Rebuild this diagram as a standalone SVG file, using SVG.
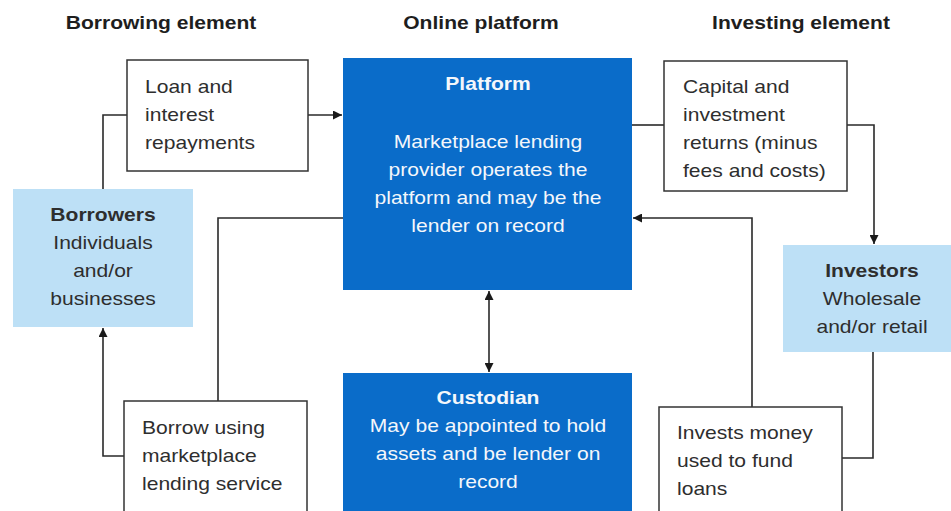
<svg xmlns="http://www.w3.org/2000/svg" width="951" height="511" viewBox="0 0 951 511">
  <defs>
    <marker id="arrow" viewBox="0 0 10 10" refX="10" refY="5" markerWidth="9" markerHeight="9" markerUnits="userSpaceOnUse" orient="auto-start-reverse">
      <path d="M0,0 L10,5 L0,10 z" fill="#1a1a1a"/>
    </marker>
  </defs>
  <style>
    text { font-family: "Liberation Sans", Arial, sans-serif; font-size: 18px; fill: #2e2e2e; }
    .head { font-weight: bold; fill: #1e1e1e; }
    .bold { font-weight: bold; }
    .white { fill: #f4f7fb; }
    .mid { text-anchor: middle; }
    .box { fill: #ffffff; stroke: #333333; stroke-width: 1.5; }
    .light { fill: #bde0f6; }
    .dark { fill: #0a6cc9; }
    .conn { fill: none; stroke: #2a2a2a; stroke-width: 1.6; }
  </style>
  <rect width="951" height="511" fill="#ffffff"/>

  <!-- column headings (text is set slightly wide: scale(1.17,1)) -->
  <g id="headings">
    <text class="head mid" transform="translate(161,29) scale(1.17,1)">Borrowing element</text>
    <text class="head mid" transform="translate(481,29) scale(1.17,1)">Online platform</text>
    <text class="head mid" transform="translate(801,29) scale(1.17,1)">Investing element</text>
  </g>

  <!-- connectors -->
  <g id="connectors">
    <path class="conn" d="M103,189 V115 H127"/>
    <path class="conn" d="M308,115 H342" marker-end="url(#arrow)"/>
    <path class="conn" d="M343,218 H218 V401"/>
    <path class="conn" d="M124,456 H103 V328" marker-end="url(#arrow)"/>
    <path class="conn" d="M489,291 V372" marker-start="url(#arrow)" marker-end="url(#arrow)"/>
    <path class="conn" d="M632,125 H664"/>
    <path class="conn" d="M847,125 H874 V244" marker-end="url(#arrow)"/>
    <path class="conn" d="M752,407 V218 H633" marker-end="url(#arrow)"/>
    <path class="conn" d="M873,352 V458 H842"/>
  </g>

  <g id="loan-repayments">
    <rect class="box" x="127" y="60" width="181" height="111"/>
    <text transform="translate(145,93) scale(1.17,1)">Loan and</text>
    <text transform="translate(145,121) scale(1.17,1)">interest</text>
    <text transform="translate(145,149) scale(1.17,1)">repayments</text>
  </g>

  <g id="borrowers">
    <rect class="light" x="13" y="189" width="180" height="138"/>
    <text class="mid bold" transform="translate(103,221) scale(1.17,1)">Borrowers</text>
    <text class="mid" transform="translate(103,249) scale(1.17,1)">Individuals</text>
    <text class="mid" transform="translate(103,277) scale(1.17,1)">and/or</text>
    <text class="mid" transform="translate(103,305) scale(1.17,1)">businesses</text>
  </g>

  <g id="platform">
    <rect class="dark" x="343" y="58" width="289" height="232"/>
    <text class="mid bold white" transform="translate(488,90) scale(1.17,1)">Platform</text>
    <text class="mid white" transform="translate(488,148) scale(1.17,1)">Marketplace lending</text>
    <text class="mid white" transform="translate(488,176) scale(1.17,1)">provider operates the</text>
    <text class="mid white" transform="translate(488,204) scale(1.17,1)">platform and may be the</text>
    <text class="mid white" transform="translate(488,232) scale(1.17,1)">lender on record</text>
  </g>

  <g id="custodian">
    <rect class="dark" x="343" y="373" width="289" height="140"/>
    <text class="mid bold white" transform="translate(488,404) scale(1.17,1)">Custodian</text>
    <text class="mid white" transform="translate(488,432) scale(1.17,1)">May be appointed to hold</text>
    <text class="mid white" transform="translate(488,460) scale(1.17,1)">assets and be lender on</text>
    <text class="mid white" transform="translate(488,488) scale(1.17,1)">record</text>
  </g>

  <g id="capital-returns">
    <rect class="box" x="664" y="61" width="183" height="130"/>
    <text transform="translate(683,93) scale(1.17,1)">Capital and</text>
    <text transform="translate(683,121) scale(1.17,1)">investment</text>
    <text transform="translate(683,149) scale(1.17,1)">returns (minus</text>
    <text transform="translate(683,177) scale(1.17,1)">fees and costs)</text>
  </g>

  <g id="investors">
    <rect class="light" x="783" y="245" width="170" height="107"/>
    <text class="mid bold" transform="translate(872,277) scale(1.17,1)">Investors</text>
    <text class="mid" transform="translate(872,305) scale(1.17,1)">Wholesale</text>
    <text class="mid" transform="translate(872,333) scale(1.17,1)">and/or retail</text>
  </g>

  <g id="borrow-service">
    <rect class="box" x="124" y="401" width="183" height="115"/>
    <text transform="translate(142,434) scale(1.17,1)">Borrow using</text>
    <text transform="translate(142,462) scale(1.17,1)">marketplace</text>
    <text transform="translate(142,490) scale(1.17,1)">lending service</text>
  </g>

  <g id="invests-money">
    <rect class="box" x="659" y="407" width="183" height="110"/>
    <text transform="translate(677,439) scale(1.17,1)">Invests money</text>
    <text transform="translate(677,467) scale(1.17,1)">used to fund</text>
    <text transform="translate(677,495) scale(1.17,1)">loans</text>
  </g>
</svg>
